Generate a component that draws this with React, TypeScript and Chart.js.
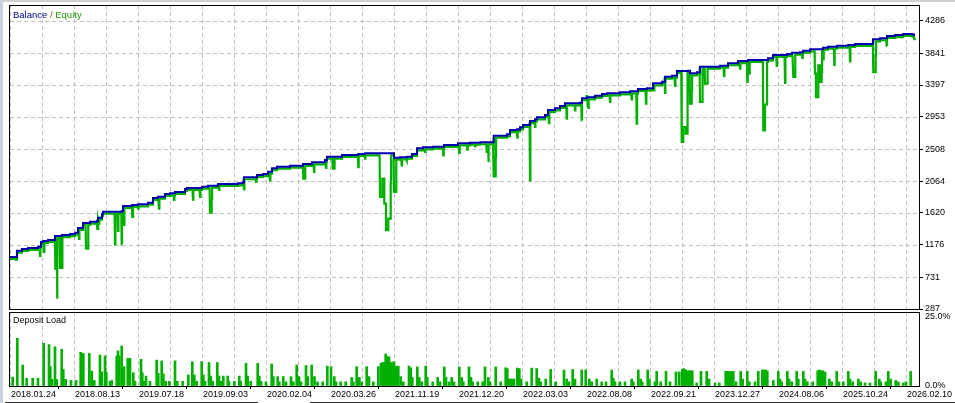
import React, { useEffect, useRef } from 'react';
import { Chart, registerables } from 'chart.js';

Chart.register(...registerables);

const W = 955;
const H = 403;
const X_MAX = 909;
const BLUE = '#0000b0';
const GREEN = '#00b000';
const GRID = '#c0c0c0';
const FONT = "'Liberation Sans', Arial, sans-serif";

// x axis = trade sequence number, labels are the dates printed under it
const dateLabels = ['2018.01.24', '2018.08.13', '2019.07.18', '2019.09.03', '2020.02.04', '2020.03.26', '2021.11.19', '2021.12.20', '2022.03.03', '2022.08.08', '2022.09.21', '2023.12.27', '2024.08.06', '2025.10.24', '2026.02.10'];
const yTickValues = [287, 731, 1176, 1620, 2064, 2508, 2953, 3397, 3841, 4286];
const yTickLabels = ['287', '731', '1176', '1620', '2064', '2508', '2953', '3397', '3841', '4286'];
const loadTickValues = [0, 25];
const loadTickLabels = ['0.0%', '25.0%'];

const balanceTrades = [0, 7, 12, 18, 28, 31, 33, 38, 45, 52, 60, 65, 68, 73, 80, 87, 88, 92, 93, 112, 113, 122, 128, 138, 143, 148, 155, 160, 165, 175, 177, 192, 198, 208, 228, 233, 234, 247, 253, 258, 262, 267, 280, 293, 302, 315, 317, 332, 348, 355, 384, 390, 397, 402, 407, 413, 423, 434, 448, 460, 470, 483, 484, 497, 500, 507, 510, 513, 520, 525, 527, 535, 538, 545, 550, 555, 570, 572, 577, 585, 592, 597, 610, 620, 628, 637, 643, 652, 655, 662, 667, 678, 680, 687, 690, 710, 718, 728, 738, 758, 763, 777, 782, 790, 793, 800, 813, 818, 827, 838, 845, 863, 870, 877, 885, 893, 902, 904];
const balanceValues = [1009, 1097, 1120, 1134, 1152, 1217, 1231, 1245, 1301, 1314, 1328, 1346, 1412, 1481, 1499, 1513, 1555, 1606, 1638, 1648, 1717, 1731, 1741, 1763, 1828, 1846, 1884, 1893, 1912, 1953, 1967, 1985, 1999, 2023, 2032, 2046, 2116, 2148, 2161, 2193, 2241, 2263, 2277, 2300, 2324, 2356, 2402, 2425, 2439, 2449, 2388, 2393, 2402, 2439, 2518, 2532, 2541, 2564, 2588, 2596, 2602, 2634, 2693, 2713, 2772, 2782, 2810, 2842, 2897, 2921, 2949, 2981, 3050, 3074, 3106, 3143, 3152, 3213, 3226, 3249, 3272, 3282, 3296, 3310, 3342, 3351, 3421, 3443, 3513, 3526, 3592, 3596, 3560, 3574, 3651, 3665, 3699, 3730, 3744, 3768, 3814, 3828, 3846, 3851, 3874, 3893, 3915, 3929, 3943, 3953, 3967, 4032, 4046, 4078, 4091, 4105, 4100, 4078];

const dipTrades = [6, 30, 34, 45.7, 47, 50, 52, 69, 76, 78, 87.7, 89, 105, 108, 111.7, 114, 122.7, 128, 149, 164, 183, 190, 200, 201.7, 209, 234, 246, 260, 293.3, 295, 304, 316, 322.7, 324.3, 348.3, 355, 370, 372.3, 374.3, 376, 378.3, 380.7, 384, 386, 391.7, 396.7, 415, 433.3, 449.3, 457.3, 465, 476.7, 478.3, 484, 485.7, 507.3, 520, 525, 539, 556.7, 565, 571.7, 576.7, 578.3, 600, 621.7, 626.7, 636, 644, 655, 665, 671.7, 673.3, 675.7, 677.3, 680, 681.7, 690, 692.3, 695, 697.3, 714, 730, 737.3, 739.3, 753.3, 755, 756.7, 766.7, 775, 783.3, 785, 792.3, 805, 806, 808.3, 810, 811.7, 813.3, 824.3, 840, 863.3, 865.7, 876.7, 904.3];
const dipValues = [995, 1051, 1106, 870, 458, 884, 884, 1287, 1152, 1314, 1426, 1499, 1213, 1398, 1213, 1481, 1592, 1707, 1707, 1828, 1832, 1870, 1652, 1842, 1967, 1977, 2078, 2102, 2124, 2207, 2217, 2273, 2263, 2332, 2286, 2402, 1870, 2124, 1777, 1408, 1569, 2055, 1939, 2356, 2310, 2379, 2495, 2449, 2481, 2527, 2574, 2495, 2356, 2157, 2425, 2693, 2102, 2842, 2897, 2957, 3074, 2935, 3272, 3106, 3189, 3226, 2888, 3165, 3351, 3314, 3411, 2634, 2842, 2749, 3429, 3165, 3351, 3189, 3560, 3443, 3685, 3550, 3651, 3467, 3582, 2796, 3152, 3165, 3689, 3453, 3536, 3675, 3800, 3582, 3258, 3699, 3467, 3605, 3782, 3703, 3754, 3605, 3837, 3967, 4060];

const loadTrades = [
  2.7, 7.3, 12.7, 16.7, 22.7, 28, 33.7, 39, 40.3, 42,
  45, 46.7, 51.7, 53.3, 55.7, 61, 66, 70.7, 73.3, 79.3,
  81.7, 84.3, 90, 91.7, 95, 96.3, 100, 101.7, 106.7, 108,
  109.3, 111.7, 114, 117.7, 120, 123.3, 125, 131, 132.3, 134.3,
  136, 140, 146.7, 148.3, 151.7, 153.3, 155.7, 159.3, 165, 167.3,
  172.7, 178.3, 182.3, 184.3, 186.7, 191.7, 193.3, 195, 199, 200.7,
  202.7, 207.3, 209, 211, 213.3, 217.7, 219, 224.3, 229.3, 230.7,
  236, 237.7, 240.7, 247.7, 249.3, 251, 256, 261.7, 263.3, 267.7,
  269.3, 273.3, 276, 281, 283.3, 286.7, 289, 291, 296, 297.7,
  301.7, 304.5, 307.5, 312.7, 317.3, 321, 324.3, 326, 330.7, 335.7,
  341.7, 343.3, 346.7, 349.3, 351.7, 356.7, 359, 363.3, 368.3, 371,
  372.7, 374, 375.7, 377.3, 379, 380.7, 382.3, 384, 385.7, 388.3,
  390.7, 393.3, 399, 400.7, 402.3, 407.3, 409.3, 411.7, 415.7, 417.3,
  422.7, 427.7, 430, 434.3, 436, 439, 441.7, 444, 449.3, 451.7,
  453.3, 459, 461, 462.7, 467.7, 472.7, 475, 478.3, 480, 485.7,
  490.7, 495.7, 497.3, 499, 500.7, 502.3, 504, 507.3, 509.3, 511,
  516.7, 521.7, 526.7, 529, 530.7, 535.7, 540.7, 545.7, 554, 556.7,
  559, 562.7, 565, 571.7, 575.7, 579.3, 581.7, 586.7, 591.7, 596,
  601.7, 603.3, 605, 610, 615, 621.7, 623.3, 628.3, 630.7, 632.3,
  637.7, 639.3, 645, 646.7, 650.7, 656, 660, 666, 669.3, 672.3,
  674, 675.7, 677.3, 679, 680.7, 682.3, 686.7, 691, 696.7, 699,
  705, 709.3, 715.7, 717.3, 719, 720.7, 723.3, 726, 730.7, 732.7,
  737.3, 739.3, 745, 748.3, 752.3, 754, 755.7, 757.3, 763.3, 768.3,
  770, 771.7, 777.3, 779, 781.7, 786.7, 788.3, 793.3, 795, 797.3,
  802.7, 807.7, 809.3, 811, 812.7, 815, 819.3, 821.7, 826.7, 829,
  833.3, 838.3, 840, 842.7, 848.3, 850.7, 855, 860, 865.7, 869.3,
  870.7, 876, 878.3, 880.7, 885.7, 888.3, 893.3, 896, 900.7,
];
const loadValues = [
  3.2, 17.3, 7.6, 2.8, 2.8, 2.8, 15.5, 15, 7, 2.4,
  14.2, 2.4, 13.3, 6, 2.4, 2, 2, 12.2, 11.8, 11.8,
  5.4, 2, 11.2, 5.1, 10.9, 5, 1.7, 2, 10.9, 12.7,
  10.9, 14.5, 7, 10, 10, 4.8, 1.7, 9.7, 4.8, 1.7,
  3.6, 1.7, 9.4, 4.6, 9.1, 4.4, 1.7, 1.7, 9.1, 1.7,
  1.7, 4, 8.8, 4, 1.7, 8.8, 4, 1.7, 8.5, 3.6,
  1.7, 8.5, 3.6, 1.7, 3.6, 3.6, 1.7, 1.7, 3.6, 1.7,
  8.2, 3.6, 1.7, 8.2, 3.6, 1.7, 1.5, 8, 3.4, 3.4,
  1.5, 3.4, 1.5, 3.4, 1.5, 7.6, 3.4, 1.5, 7.4, 3.4,
  7.6, 3.4, 1.5, 1.5, 7.2, 7, 3.4, 1.5, 1.5, 1.5,
  3.1, 1.5, 7, 3.1, 1.5, 7, 3.4, 1.5, 7, 8.2,
  8.5, 8.5, 11.6, 10.6, 10.6, 8.5, 8.5, 8.8, 7.2, 7.2,
  3.4, 1.5, 7.2, 6.6, 3.1, 6.9, 3.1, 1.5, 7.2, 3.1,
  1.5, 3.1, 1.5, 6.9, 3.1, 1.5, 3.1, 1.5, 6.9, 3.1,
  1.5, 6.9, 3.1, 1.5, 1.5, 1.5, 6.9, 3.1, 1.5, 6.9,
  1.5, 6.6, 6.3, 2.5, 2.5, 2.5, 2.5, 6.5, 6.3, 2.5,
  1.5, 6.5, 6.3, 2.8, 1.5, 2.5, 6, 1.5, 5.8, 2.5,
  1.5, 6, 2.5, 5.8, 5.8, 2.5, 1.5, 2.5, 1.5, 1.5,
  5.8, 2.8, 1.5, 1.5, 1.5, 2.5, 1.5, 5.8, 2.5, 1.5,
  5.8, 2.5, 1.5, 5.3, 1.5, 5.3, 1.5, 5.1, 5.1, 6,
  6.3, 5.8, 5.5, 5.5, 5.5, 5.5, 1.1, 5.3, 5.3, 2.5,
  1.1, 1.1, 5.3, 5.3, 5.3, 5.3, 5.3, 1.5, 5.3, 2.5,
  5.3, 1.5, 1.5, 5.3, 5.8, 5.8, 5.8, 5.5, 2, 5.3,
  2.5, 1.5, 5.3, 2.5, 1.5, 5.3, 2.5, 5.3, 2.5, 1.5,
  1.5, 5.5, 5.8, 5.5, 5.5, 5.1, 2.5, 1.5, 5.3, 1.5,
  1.5, 5.3, 2.5, 1.5, 2.5, 1.5, 1.1, 1.1, 5.3, 2.5,
  1.5, 1.5, 5.3, 2.5, 2, 1.5, 1.1, 1.5, 5.3,
];

const gridTicks: number[] = [];
for (let v = 0; v <= 896; v += 32) gridTicks.push(v);

function buildBalance() {
  const pts: { x: number; y: number }[] = [];
  balanceTrades.forEach((x, i) => {
    if (i) pts.push({ x, y: balanceValues[i - 1] });
    pts.push({ x, y: balanceValues[i] });
  });
  return pts;
}

function buildEquity() {
  type Ev = { x: number; v: number; b: boolean };
  const evs: Ev[] = [];
  balanceTrades.forEach((x, i) => evs.push({ x, v: balanceValues[i], b: true }));
  dipTrades.forEach((x, i) => evs.push({ x, v: dipValues[i], b: false }));
  evs.sort((a, b) => a.x - b.x || (a.b ? -1 : 1));
  const pts: { x: number; y: number }[] = [];
  let L = balanceValues[0];
  evs.forEach((e, i) => {
    if (e.b) {
      if (pts.length) pts.push({ x: e.x, y: L });
      pts.push({ x: e.x, y: e.v });
      L = e.v;
    } else {
      const prev = evs[i - 1];
      const next = evs[i + 1];
      const joinPrev = prev && !prev.b && e.x - prev.x < 2.5;
      const joinNext = next && !next.b && next.x - e.x < 2.5;
      if (!joinPrev) pts.push({ x: e.x - 0.4, y: L });
      else pts.push({ x: e.x, y: prev.v });
      pts.push({ x: e.x, y: e.v });
      if (!joinNext) {
        pts.push({ x: e.x + 0.4, y: e.v });
        pts.push({ x: e.x + 0.4, y: L });
      }
    }
  });
  return pts;
}

function dashedGrid(chart: any, withHorizontal: boolean) {
  const { ctx, chartArea: a, scales } = chart;
  ctx.save();
  ctx.strokeStyle = GRID;
  ctx.lineWidth = 1;
  ctx.setLineDash([4, 3]);
  ctx.beginPath();
  gridTicks.forEach((v) => {
    const px = Math.round(scales.x.getPixelForValue(v)) + 0.5;
    ctx.moveTo(px, a.top);
    ctx.lineTo(px, a.bottom);
  });
  if (withHorizontal) {
    yTickValues.forEach((v) => {
      const py = Math.round(scales.y.getPixelForValue(v)) + 0.5;
      ctx.moveTo(a.left, py);
      ctx.lineTo(a.right, py);
    });
  }
  ctx.stroke();
  ctx.restore();
}

const shiftEquity = {
  id: 'shiftEquity',
  beforeDatasetDraw(chart: any, args: any) {
    if (args.index === 1) {
      chart.ctx.save();
      chart.ctx.translate(0, 2);
    }
  },
  afterDatasetDraw(chart: any, args: any) {
    if (args.index === 1) chart.ctx.restore();
  },
};

const mainDecor = {
  id: 'mainDecor',
  beforeDatasetsDraw(chart: any) {
    dashedGrid(chart, true);
  },
  afterDraw(chart: any) {
    const { ctx, chartArea: a } = chart;
    ctx.save();
    ctx.strokeStyle = '#000';
    ctx.lineWidth = 1;
    ctx.strokeRect(a.left - 0.5, a.top + 0.5, a.right - a.left + 1, a.bottom - a.top);
    ctx.font = `9.5px ${FONT}`;
    ctx.textBaseline = 'middle';
    let x = 13;
    const y = 15.5;
    ctx.fillStyle = '#000090';
    ctx.fillText('Balance', x, y);
    x += ctx.measureText('Balance ').width;
    ctx.fillStyle = '#a06000';
    ctx.fillText('/', x, y);
    x += ctx.measureText('/ ').width;
    ctx.fillStyle = '#20a000';
    ctx.fillText('Equity', x, y);
    ctx.restore();
  },
};

const loadDecor = {
  id: 'loadDecor',
  beforeDatasetsDraw(chart: any) {
    dashedGrid(chart, false);
  },
  afterDraw(chart: any) {
    const { ctx, chartArea: a } = chart;
    ctx.save();
    ctx.strokeStyle = '#000';
    ctx.lineWidth = 1;
    ctx.strokeRect(a.left - 0.5, a.top + 0.5, a.right - a.left + 1, a.bottom - a.top);
    ctx.font = `9px ${FONT}`;
    ctx.textBaseline = 'middle';
    ctx.fillStyle = '#000';
    ctx.fillText('Deposit Load', 13, 320.5);
    ctx.restore();
  },
};

export default function App() {
  const mainRef = useRef<HTMLCanvasElement>(null);
  const loadRef = useRef<HTMLCanvasElement>(null);

  useEffect(() => {
    document.body.style.margin = '0';
    const font = { family: FONT, size: 9 };
    const mainChart = new Chart(mainRef.current as HTMLCanvasElement, {
      type: 'line',
      data: {
        datasets: [
          { label: 'Balance', data: buildBalance(), borderColor: BLUE, borderWidth: 2, pointRadius: 0, fill: false, tension: 0 },
          { label: 'Equity', data: buildEquity(), borderColor: GREEN, borderWidth: 2.2, pointRadius: 0, fill: false, tension: 0 },
        ],
      },
      options: {
        responsive: false,
        animation: false,
        devicePixelRatio: 1,
        layout: { padding: { left: 10, top: 5, right: 0, bottom: H - 309 } },
        plugins: { legend: { display: false }, tooltip: { enabled: false } },
        scales: {
          x: {
            type: 'linear',
            min: 0,
            max: X_MAX,
            afterBuildTicks: (s: any) => { s.ticks = gridTicks.map((v) => ({ value: v })); },
            afterFit: (s: any) => { s.height = 0; s.paddingLeft = 0; s.paddingRight = 0; },
            ticks: { display: false },
            grid: { display: false },
            border: { display: false },
          },
          y: {
            position: 'right',
            min: 287,
            max: 4508,
            afterBuildTicks: (s: any) => { s.ticks = yTickValues.map((v) => ({ value: v })); },
            afterFit: (s: any) => { s.width = W - 919; s.paddingTop = 0; s.paddingBottom = 0; },
            ticks: { callback: (_v: any, i: number) => yTickLabels[i], color: '#000', font, padding: 2 },
            grid: { drawOnChartArea: false, color: '#000', tickColor: '#000', tickLength: 4 },
            border: { display: true, color: '#000' },
          },
        },
      } as any,
      plugins: [shiftEquity, mainDecor],
    });

    const loadChart = new Chart(loadRef.current as HTMLCanvasElement, {
      type: 'bar',
      data: {
        datasets: [
          {
            label: 'Deposit Load',
            data: loadTrades.map((x, i) => ({ x, y: loadValues[i] })),
            backgroundColor: GREEN,
            borderWidth: 0,
            barThickness: 2,
          },
        ],
      },
      options: {
        responsive: false,
        animation: false,
        devicePixelRatio: 1,
        layout: { padding: { left: 10, top: 312, right: 0, bottom: 0 } },
        plugins: { legend: { display: false }, tooltip: { enabled: false } },
        scales: {
          x: {
            type: 'linear',
            min: 0,
            max: X_MAX,
            offset: false,
            afterBuildTicks: (s: any) => { s.ticks = gridTicks.map((v) => ({ value: v })); },
            afterFit: (s: any) => { s.height = H - 386; s.paddingLeft = 0; s.paddingRight = 0; },
            ticks: {
              autoSkip: false,
              maxRotation: 0,
              minRotation: 0,
              align: 'start',
              labelOffset: 1,
              padding: 0,
              color: '#000',
              font,
              callback: (v: any) => (v % 64 === 0 ? dateLabels[v / 64] : ''),
            },
            grid: {
              drawOnChartArea: false,
              tickLength: 3,
              tickColor: (c: any) => (c.tick && c.tick.value % 64 === 0 ? '#000' : 'rgba(0,0,0,0)'),
            },
            border: { display: true, color: '#000' },
          },
          y: {
            position: 'right',
            min: 0,
            max: 26.8,
            afterBuildTicks: (s: any) => { s.ticks = loadTickValues.map((v) => ({ value: v })); },
            afterFit: (s: any) => { s.width = W - 919; s.paddingTop = 0; s.paddingBottom = 0; },
            ticks: { callback: (_v: any, i: number) => loadTickLabels[i], color: '#000', font, padding: 6 },
            grid: { drawOnChartArea: false, drawTicks: false },
            border: { display: true, color: '#000' },
          },
        },
      } as any,
      plugins: [loadDecor],
    });

    return () => {
      mainChart.destroy();
      loadChart.destroy();
    };
  }, []);

  const abs: React.CSSProperties = { position: 'absolute', left: 0, top: 0 };
  return (
    <div style={{ position: 'absolute', left: 0, top: 0, width: W, height: H, background: '#fff', overflow: 'hidden' }}>
      <div style={{ ...abs, width: W, height: 2, background: '#d0d0d0' }} />
      <div style={{ ...abs, width: 3, height: H, background: '#c4d1df' }} />
      <div style={{ ...abs, left: 5, top: 402, width: 253, height: 1, background: '#303030' }} />
      <div style={{ ...abs, left: 310, top: 402, width: W - 310, height: 1, background: '#303030' }} />
      <canvas ref={mainRef} width={W} height={H} style={{ ...abs, width: W, height: H }} />
      <canvas ref={loadRef} width={W} height={H} style={{ ...abs, width: W, height: H }} />
    </div>
  );
}
